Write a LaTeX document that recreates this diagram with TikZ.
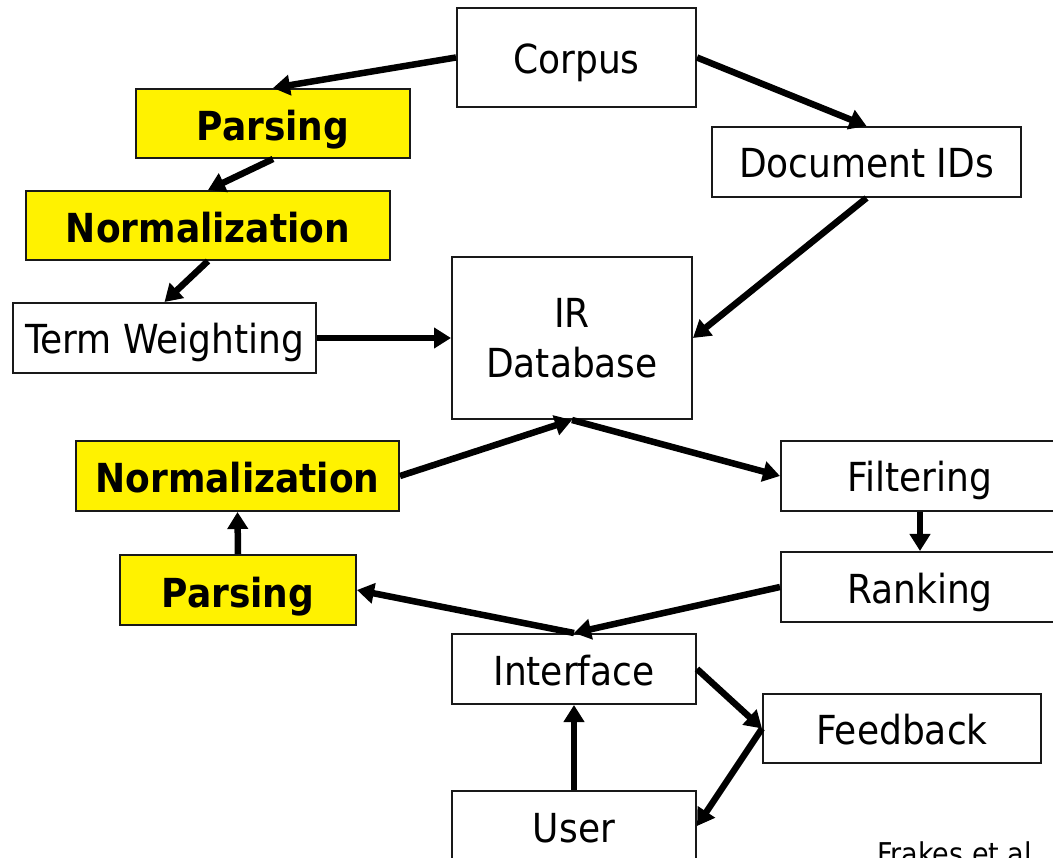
\documentclass[tikz,border=0pt]{standalone}
\usepackage{fontspec}
\setmainfont{DejaVu Sans Condensed}
\usetikzlibrary{arrows.meta}
\begin{document}
\begin{tikzpicture}[x=1pt,y=-1pt,
  box/.style={draw=black!90, line width=2pt, fill=white, inner sep=0pt, font=\fontsize{40}{50}\selectfont, align=center, text height=32pt, text depth=0pt},
  ybox/.style={box, fill=yellow, font=\fontsize{40}{50}\selectfont\bfseries, text height=34pt},
  conn/.style={line width=6.5pt, -{Triangle[length=17pt,width=20pt]}}]
\useasboundingbox (0,0) rectangle (1053,858);
\clip (0,0) rectangle (1053,858);
\node[box, minimum width=239pt, minimum height=99pt] (corpus) at (576.5,57.5) {Corpus};
\node[ybox, minimum width=274pt, minimum height=69pt] (pars1) at (273,123.5) {Parsing};
\node[ybox, minimum width=364pt, minimum height=69pt] (norm1) at (208,225.5) {Normalization};
\node[box, minimum width=303pt, minimum height=70pt] (tw) at (164.5,338) {Term Weighting};
\node[box, minimum width=240pt, minimum height=162pt, text height=, text depth=] (ir) at (572,338) {IR\\Database};
\node[box, minimum width=309pt, minimum height=70pt] (docids) at (866.5,162) {Document IDs};
\node[ybox, minimum width=323pt, minimum height=70pt] (norm2) at (237.5,476) {Normalization};
\node[ybox, minimum width=236pt, minimum height=70pt] (pars2) at (238,590) {Parsing};
\node[box, minimum width=278pt, minimum height=70pt] (filt) at (920,476) {Filtering};
\node[box, minimum width=278pt, minimum height=70pt] (rank) at (920,587) {Ranking};
\node[box, minimum width=244pt, minimum height=70pt] (iface) at (574,669) {Interface};
\node[box, minimum width=278pt, minimum height=69pt] (feed) at (902,728.5) {Feedback};
\node[box, minimum width=244pt, minimum height=70pt] (user) at (574,826) {User};
\node[anchor=base west, inner sep=0pt, font=\fontsize{30}{34}\selectfont] (cite) at (877,864) {Frakes et al};
\draw[conn] (corpus.west) -- (pars1.north);
\draw[conn] (corpus.east) -- (docids.north);
\draw[conn] (pars1.south) -- (norm1.north);
\draw[conn] (norm1.south) -- (tw.north);
\draw[conn] (tw.east) -- (ir.west);
\draw[conn] (docids.south) -- (ir.east);
\draw[conn] (norm2.east) -- (ir.south);
\draw[conn] (ir.south) -- (filt.west);
\draw[conn] (filt.south) -- (rank.north);
\draw[conn] (rank.west) -- (iface.north);
\draw[conn] (iface.north) -- (pars2.east);
\draw[conn] (pars2.north) -- (norm2.south);
\draw[conn] (iface.east) -- (feed.west);
\draw[conn] (feed.west) -- (user.east);
\draw[conn] (user.north) -- (iface.south);
\end{tikzpicture}
\end{document}
